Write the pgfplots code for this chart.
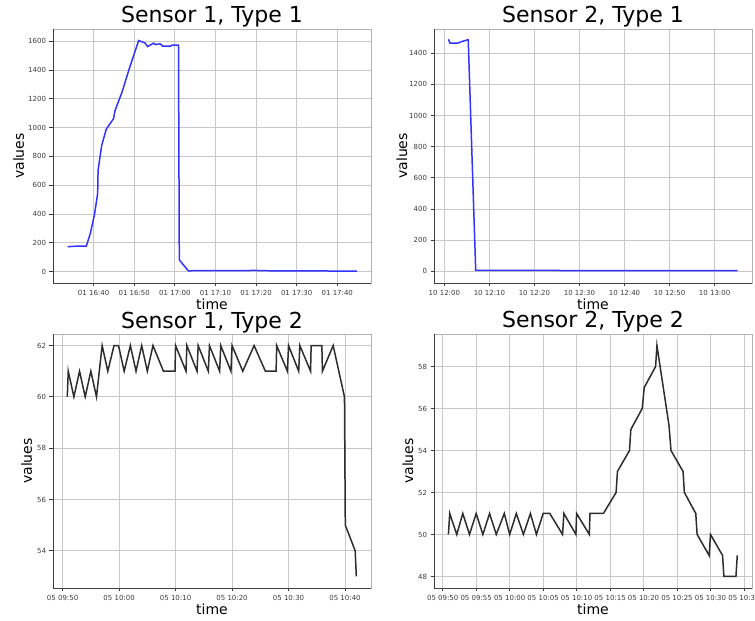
\documentclass[border=0pt]{standalone}
\usepackage{fontspec}
\setmainfont{DejaVu Sans}
\usepackage{pgfplots}
\pgfplotsset{compat=1.18}

\definecolor{lineblue}{RGB}{51,51,255}
\definecolor{lineblack}{RGB}{45,45,45}
\definecolor{gridgray}{RGB}{200,200,200}
\definecolor{tickgray}{RGB}{60,60,60}

\pgfplotsset{
  panel/.style={
    scale only axis, width=318pt, height=254pt,
    anchor=south west,
    axis line style={gray!60, line width=0.8pt},
    grid=major, major grid style={gridgray, line width=0.8pt},
    tick pos=left, tick align=outside, major tick length=3.5pt,
    tick style={tickgray, line width=0.8pt},
    tick label style={font=\fontsize{7}{8.5}\selectfont, text=tickgray},
    /pgf/number format/assume math mode=true,
    /pgf/number format/1000 sep={},
    every axis title/.style={font=\fontsize{22}{26}\selectfont,
      at={([yshift=6pt]axis description cs:0.5,1)}, anchor=base},
    xlabel style={font=\fontsize{14}{17}\selectfont, at={([yshift=-27pt]axis description cs:0.5,0)}, anchor=base},
    ylabel style={font=\fontsize{14}{17}\selectfont, anchor=base},
    xlabel={time}, ylabel={values},
    clip=false,
  },
}
\newcommand{\darkspines}{\draw[black!75, line width=0.9pt] (rel axis cs:0,1) -- (rel axis cs:0,0) -- (rel axis cs:1,0);}

\begin{document}
\begin{tikzpicture}
% Sensor 1, Type 1 (minutes after 16:00)
\begin{axis}[panel, at={(53pt,338pt)},
  title={Sensor 1, Type 1},
  ylabel style={at={([xshift=-29pt]axis description cs:0,0.5)}},
  xmin=30.0, xmax=108.3, ymin=-80, ymax=1685,
  xtick={40,50,60,70,80,90,100},
  xticklabels={01 16:40,01 16:50,01 17:00,01 17:10,01 17:20,01 17:30,01 17:40},
  ytick={0,200,400,600,800,1000,1200,1400,1600}]
\addplot[lineblue, line width=1.5pt] coordinates {
 (33.6,172) (36.3,177) (38.2,176) (39.2,265) (40.2,393) (41.0,543) (41.1,704)
 (42.0,877) (43.1,988) (44.9,1062) (45.3,1120) (47.0,1247) (48.9,1420)
 (51.1,1605) (52.7,1587) (53.3,1563) (54.8,1587) (55.2,1577) (56.4,1582)
 (57.0,1566) (58.9,1566) (59.3,1573) (60.9,1573) (61.1,81) (63.3,5)
 (80,7) (85,4) (104.8,3)};
\darkspines
\end{axis}
% Sensor 2, Type 1 (minutes after 12:00)
\begin{axis}[panel, at={(434pt,338pt)},
  title={Sensor 2, Type 1},
  ylabel style={at={([xshift=-27pt]axis description cs:0,0.5)}},
  xmin=-2.3, xmax=68.3, ymin=-75, ymax=1555,
  xtick={0,10,20,30,40,50,60},
  xticklabels={10 12:00,10 12:10,10 12:20,10 12:30,10 12:40,10 12:50,10 13:00},
  ytick={0,200,400,600,800,1000,1200,1400}]
\addplot[lineblue, line width=1.5pt] coordinates {
 (0.9,1489) (1.26,1464) (2.9,1464) (3.85,1474) (5.1,1485) (5.3,1485)
 (6.96,6) (30,5) (65.1,4)};
\darkspines
\end{axis}
% Sensor 1, Type 2 (minutes after 09:00)
\begin{axis}[panel, at={(53pt,33pt)},
  title={Sensor 1, Type 2},
  ylabel style={at={([xshift=-21pt]axis description cs:0,0.5)}},
  xmin=48.3, xmax=104.6, ymin=52.55, ymax=62.45,
  xtick={50,60,70,80,90,100},
  xticklabels={05 09:50,05 10:00,05 10:10,05 10:20,05 10:30,05 10:40},
  ytick={54,56,58,60,62}]
\addplot[lineblack, line width=1.5pt] coordinates {
 (50.83,60) (51.0,61) (52.0,60) (53.0,61) (54.0,60) (55.0,61) (56.0,60)
 (57.0,62) (58.0,61) (59.1,62) (59.9,62) (60.9,61) (62.0,62) (63.0,61)
 (64.0,62) (65.0,61) (66.0,62) (67.85,61) (69.9,61) (70.0,62) (71.85,61)
 (72.0,62) (73.8,61) (74.0,62) (75.8,61) (76.0,62) (77.8,61) (78.0,62)
 (79.8,61) (80.0,62) (81.9,61) (83.9,62) (85.9,61) (87.8,61) (87.9,62)
 (89.8,61) (90.0,62) (91.8,61) (92.0,62) (93.9,61) (94.0,62) (95.9,62)
 (96.0,61) (97.9,62) (99.9,60) (100.05,55) (101.8,54) (102.0,53)};
\darkspines
\end{axis}
% Sensor 2, Type 2 (minutes after 09:00)
\begin{axis}[panel, at={(434pt,33pt)},
  title={Sensor 2, Type 2},
  ylabel style={at={([xshift=-21pt]axis description cs:0,0.5)}},
  xmin=48.7, xmax=96.2, ymin=47.45, ymax=59.55,
  xtick={50,55,60,65,70,75,80,85,90,95},
  xticklabels={05 09:50,05 09:55,05 10:00,05 10:05,05 10:10,05 10:15,05 10:20,05 10:25,05 10:30,05 10:35},
  ytick={48,50,52,54,56,58}]
\addplot[lineblack, line width=1.5pt] coordinates {
 (50.85,50) (51.05,51) (52.1,50) (53.0,51) (54.0,50) (55.0,51) (56.0,50)
 (57.0,51) (58.0,50) (59.2,51) (60.0,50) (61.0,51) (62.05,50) (63.1,51)
 (64.0,50) (65.0,51) (66.0,51) (67.9,50) (68.1,51) (69.9,50) (70.0,51)
 (71.9,50) (72.0,51) (74.0,51) (75.9,52) (76.1,53) (77.9,54) (78.1,55)
 (79.8,56) (80.1,57) (81.8,58) (82.0,59) (83.8,55.2) (84.1,54) (85.9,53)
 (86.1,52) (87.8,51) (88.0,50) (89.8,49) (90.0,50) (91.8,49) (92.0,48)
 (93.8,48) (94.0,49)};
\darkspines
\end{axis}
\pgfresetboundingbox
\useasboundingbox (0pt,0pt) rectangle (755pt,621pt);
\end{tikzpicture}
\end{document}
